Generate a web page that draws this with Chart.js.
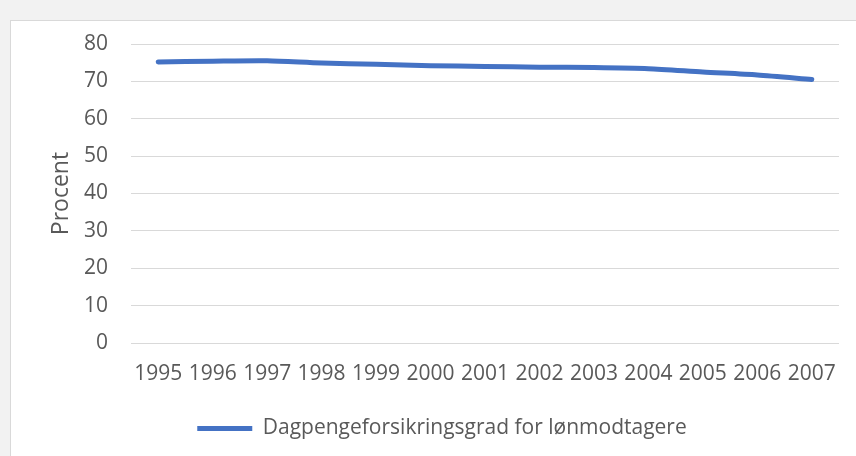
<!DOCTYPE html>
<html>
<head>
<meta charset="utf-8">
<script src="https://cdn.jsdelivr.net/npm/chart.js@4"></script>
<style>
  html, body { margin: 0; padding: 0; background: #f2f2f2; }
  #panel { position: absolute; left: 10px; top: 20px; width: 846px; height: 436px;
           background: #fff; border-left: 1px solid #d9d9d9; border-top: 1px solid #d9d9d9; box-sizing: border-box; }
  #wrap { position: absolute; left: 0; top: 0; width: 856px; height: 456px; }
</style>
</head>
<body>
<div id="panel"></div>
<div id="wrap"><canvas id="grafico" width="856" height="456"></canvas></div>
<script>
// === DATOS ===
const years = ['1995', '1996', '1997', '1998', '1999', '2000', '2001', '2002', '2003', '2004', '2005', '2006', '2007'];
const grad = [75.2, 75.4, 75.5, 74.9, 74.6, 74.2, 74.0, 73.8, 73.7, 73.4, 72.5, 71.7, 70.5];
const yTicks = [0, 10, 20, 30, 40, 50, 60, 70, 80];
const serieNavn = 'Dagpengeforsikringsgrad for lønmodtagere';

const txt = '#595959';
const fnt = { family: "'Open Sans', sans-serif", size: 21 };

new Chart(document.getElementById('grafico'), {
  type: 'line',
  data: {
    labels: years,
    datasets: [{
      label: serieNavn,
      data: grad,
      borderColor: '#4472c4',
      backgroundColor: '#4472c4',
      borderWidth: 5,
      borderCapStyle: 'round',
      borderJoinStyle: 'round',
      tension: 0.25,
      pointRadius: 0,
      fill: false
    }]
  },
  options: {
    responsive: false,
    animation: false,
    layout: { padding: { left: 45, top: 44, right: 17, bottom: 7 } },
    plugins: {
      tooltip: { enabled: false },
      legend: {
        position: 'bottom',
        labels: {
          color: txt, font: fnt, padding: 10,
          usePointStyle: true, pointStyle: 'line', pointStyleWidth: 55
        }
      }
    },
    scales: {
      x: {
        offset: true,
        grid: { display: false, drawTicks: false },
        border: { display: false },
        ticks: { color: txt, font: fnt, padding: 18, maxRotation: 0, autoSkip: false },
        afterFit: (s) => { s.height = 65; }
      },
      y: {
        min: 0, max: 80,
        afterBuildTicks: (s) => { s.ticks = yTicks.map(v => ({ value: v })); },
        grid: { color: '#d9d9d9', lineWidth: 1, drawTicks: false },
        border: { display: false },
        ticks: { color: txt, font: fnt, padding: 23 },
        title: { display: true, text: 'Procent', color: txt, font: { family: fnt.family, size: 23 }, padding: { top: 3, bottom: 0 } },
        afterFit: (s) => { s.width = 86; }
      }
    }
  }
});
</script>
</body>
</html>
